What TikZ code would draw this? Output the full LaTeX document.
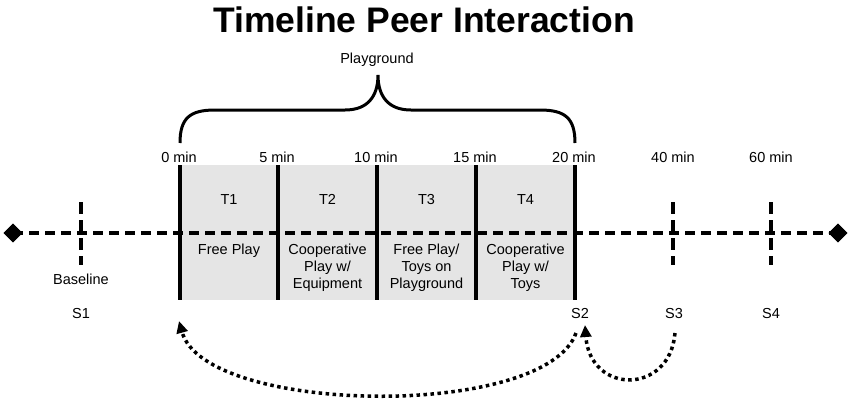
\documentclass[tikz,border=0pt]{standalone}
\usepackage{fontspec}
\setmainfont{Liberation Sans}
\usetikzlibrary{arrows.meta,shapes.geometric}
\begin{document}
\begin{tikzpicture}[x=1pt,y=-1pt,
  lbl/.style={font=\fontsize{14.5}{17}\selectfont, inner sep=0pt, anchor=base},
  cell/.style={align=center, font=\fontsize{14.5}{16.8}\selectfont, anchor=north, inner sep=0pt},
  bar/.style={line width=3.5pt},
  dashline/.style={line width=4pt, dash pattern=on 10pt off 6pt},
  vdash/.style={line width=4pt, dash pattern=on 12pt off 6pt},
  dotarrow/.style={line width=3.5pt, dash pattern=on 3.5pt off 3.5pt, -{Triangle[length=12pt,width=11pt]}},
  endmark/.style={diamond, fill=black, minimum width=19pt, minimum height=19pt, inner sep=0pt}]
\useasboundingbox (0,0) rectangle (852,405);
% title
\node (title) at (424,20) {\fontsize{35.5}{40}\selectfont\bfseries Timeline Peer Interaction};
\node[lbl] (pg) at (377,63) {Playground};
% brace
\draw[line width=3pt] (180,143) .. controls (180,118) and (190,110) .. (215,110) -- (345,110)
  .. controls (368,110) and (378,96) .. (378,75)
  .. controls (378,96) and (388,110) .. (411,110) -- (540,110)
  .. controls (565,110) and (575,118) .. (575,143);
% minute labels
\node[lbl] (m0) at (179,162) {0 min};
\node[lbl] (m5) at (277,162) {5 min};
\node[lbl] (m10) at (376,162) {10 min};
\node[lbl] (m15) at (475,162) {15 min};
\node[lbl] (m20) at (574,162) {20 min};
\node[lbl] (m40) at (673,162) {40 min};
\node[lbl] (m60) at (771,162) {60 min};
% grey area
\fill[black!10] (180,165) rectangle (575,300);
% main dashed line
\node[endmark] (dl) at (13,233) {};
\node[endmark] (dr) at (838,233) {};
\draw[dashline] (dl.center) -- (dr.center);
\node[endmark] at (13,233) {};
\node[endmark] at (838,233) {};
% bars
\foreach \x in {180,278,377,476,575} \draw[bar] (\x,165) -- (\x,300);
% dashed verticals
\foreach \x in {81,673,771} \draw[vdash] (\x,202) -- (\x,265);
% cell texts
\node[lbl] (t1) at (229,204.5) {T1};
\node[lbl] (t2) at (327.5,204.5) {T2};
\node[lbl] (t3) at (426.5,204.5) {T3};
\node[lbl] (t4) at (525.5,204.5) {T4};
\node[cell] (c1) at (229,244) {Free Play};
\node[cell] (c2) at (327.5,244) {Cooperative\\Play w/\\Equipment};
\node[cell] (c3) at (426.5,244) {Free Play/\\Toys on\\Playground};
\node[cell] (c4) at (525.5,244) {Cooperative\\Play w/\\Toys};
% labels
\node[lbl] (base) at (81,284) {Baseline};
\node[lbl] (s1) at (81,318) {S1};
\node[lbl] (s2) at (580,318) {S2};
\node[lbl] (s3) at (674,318) {S3};
\node[lbl] (s4) at (771,318) {S4};
% arrows
\coordinate (a1s) at (576,333);
\coordinate (a1e) at (179,321);
\coordinate (a2s) at (675,333);
\coordinate (a2e) at (585,325);
\draw[dotarrow] (a1s) .. controls (545,420) and (205,415) .. (a1e);
\draw[dotarrow] (a2s) .. controls (670,395) and (590,395) .. (a2e);
\end{tikzpicture}
\end{document}
